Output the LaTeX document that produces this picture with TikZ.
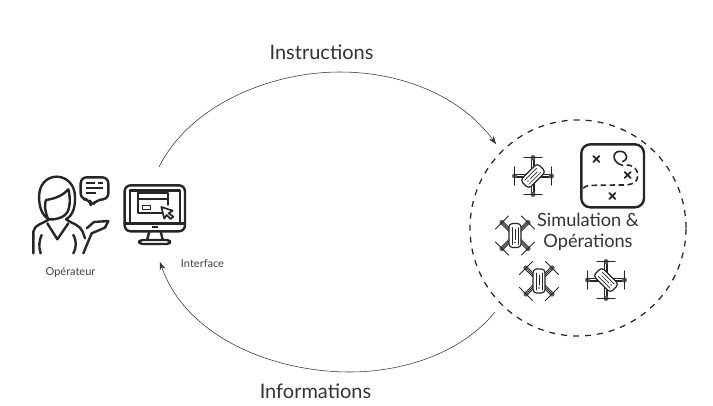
\documentclass[tikz,border=0pt]{standalone}
\usepackage{fontspec}
\setmainfont{Lato}
\usetikzlibrary{arrows.meta}
\tikzset{
  x=1pt,y=-1pt,
  icon/.style={line width=2.4pt,color=black!85,line cap=round,line join=round},
  thinicon/.style={line width=0.9pt,color=black!85,line cap=round,line join=round},
  flow/.style={line width=0.55pt,color=black!80,-{Stealth[length=8pt,width=6pt]}},
  biglabel/.style={font=\fontsize{20}{24}\selectfont,color=black!80,align=center,inner sep=0pt},
  midlabel/.style={font=\fontsize{18.2}{21}\selectfont,color=black!80,align=center,inner sep=0pt},
  smalllabel/.style={font=\fontsize{11}{13}\selectfont,color=black!75,inner sep=0pt},
  drone/.pic={
    \draw[thinicon] (-13,-13)--(13,13) (-13,13)--(13,-13);
    \draw[thinicon] (-11,-13)--(-4,-6) (-13,-11)--(-6,-4) (11,-13)--(4,-6) (13,-11)--(6,-4)
      (-11,13)--(-4,6) (-13,11)--(-6,4) (11,13)--(4,6) (13,11)--(6,4);
    \foreach \sx/\sy in {-1/-1,1/-1,-1/1,1/1}{
      \fill[black!65] (13*\sx,13*\sy) circle (2.6pt);
      \draw[thinicon] (13*\sx+6.5*\sx,13*\sy-6.5*\sy)--(13*\sx-6.5*\sx,13*\sy+6.5*\sy);
    }
    \draw[thinicon,fill=white,rounded corners=3.5pt,line width=1.2pt] (-6,-12) rectangle (6,12);
    \draw[thinicon,line width=.7pt] (-3,-8)--(-3,9) (3,-8)--(3,9) (0,-6)--(0,4);
    \fill[black!80] (0,7) circle (.8pt);
  }
}
\begin{document}
\begin{tikzpicture}
\useasboundingbox (0,0) rectangle (713,405);
% connector ends
\coordinate (topstart) at (159,167);
\coordinate (topend) at (496,144);
\coordinate (botstart) at (495,312);
\coordinate (botend) at (160,262);
\node[biglabel] (instr) at (321.5,52) {Instructions};
\node[biglabel] (infos) at (315.5,391) {Informations};
\node[smalllabel] (oper) at (70.5,272) {Opérateur};
\node[smalllabel] (iface) at (202.5,264) {Interface};
\node[midlabel] (simu) at (588,232) {Simulation \&\\Opérations};
\node[draw=black!85,circle,line width=1.25pt,minimum size=216pt,inner sep=0pt,dash pattern=on 6pt off 6pt] (cloud) at (578,228) {};
\draw[flow] (topstart) .. controls (190,105) and (270,72) .. (340,72) .. controls (400,72) and (460,95) .. (topend);
\draw[flow] (botstart) .. controls (460,355) and (400,372) .. (350,372) .. controls (270,372) and (185,335) .. (botend);

% operator + screen, reference zoom coordinates
\begin{scope}[shift={(20,160)},x=0.3333pt,y=-0.3333pt]
  % hair
  \draw[icon] (40,280) -- (40,215) .. controls (42,195) and (70,190) .. (87,178) .. controls (62,165) and (55,130) .. (58,100)
    .. controls (62,65) and (88,50) .. (110,50) .. controls (140,50) and (165,75) .. (165,110) .. controls (166,140) and (160,165) .. (138,178)
    .. controls (155,190) and (180,195) .. (188,215) -- (195,235);
  % face
  \draw[icon] (85,178) .. controls (75,155) and (72,135) .. (78,120) .. controls (110,115) and (130,105) .. (145,88)
    .. controls (152,115) and (152,150) .. (135,165) .. controls (125,175) and (100,180) .. (85,178);
  % collar
  \draw[icon] (82,190) -- (112,238) -- (145,190);
  \draw[icon] (62,280) .. controls (55,260) and (58,240) .. (65,225);
  \draw[icon] (160,225) .. controls (170,245) and (170,260) .. (160,280);
  % arm & hand
  \draw[icon] (190,280) -- (215,220) -- (255,203) -- (265,183) -- (222,186) -- (200,205);
  % bubble
  \draw[icon,rounded corners=6pt] (182,52) -- (265,52) -- (265,118) -- (232,118) -- (213,140) -- (210,118) -- (182,118) -- cycle;
  \draw[icon,line width=1.8pt,line cap=butt] (198,70)--(225,70) (233,70)--(250,70) (198,85)--(250,85) (198,100)--(228,100);
  % monitor
  \draw[icon,rounded corners=6pt] (314,76) rectangle (495,214);
  \draw[icon] (314,190) -- (495,190);
  \draw[icon] (330,92) -- (480,92) -- (480,190) (330,92) -- (330,190);
  \draw[icon,line width=1.5pt,line cap=butt] (395,201)--(415,201);
  \draw[icon] (388,214) -- (382,238) (422,214) -- (428,238);
  \draw[icon,rounded corners=3pt] (358,252) -- (358,240) -- (450,240) -- (450,252) -- cycle;
  % window
  \draw[icon,line width=1.8pt] (353,100) -- (444,100) -- (444,135) (353,100) -- (353,160) -- (425,160);
  \draw[icon,line width=1.8pt] (353,118) -- (444,118);
  \draw[icon,line width=1.5pt] (368,137) rectangle (392,149);
  % cursor
  \draw[icon,line width=1.7pt,fill=white] (424,141) -- (458,152) -- (446,160) -- (460,170) -- (452,177) -- (440,165) -- (433,176) -- cycle;
\end{scope}

% map, reference zoom coordinates
\begin{scope}[shift={(470,120)},x=0.3333pt,y=-0.3333pt]
  \draw[icon,rounded corners=9pt] (334,73) rectangle (522,262);
  \draw[icon,line width=1.8pt] (370,108)--(388,126) (388,108)--(370,126);
  \draw[icon,line width=1.8pt] (464,156)--(482,174) (482,156)--(464,174);
  \draw[icon,line width=1.8pt] (418,219)--(436,237) (436,219)--(418,237);
  \draw[icon,line width=1.6pt] (458,136) .. controls (425,128) and (425,94) .. (450,94) .. controls (475,94) and (475,122) .. (458,125);
  \draw[icon,line width=1.6pt,dash pattern=on 5.5pt off 3.5pt,line cap=butt] (470,135) .. controls (500,135) and (510,165) .. (500,180) .. controls (492,196) and (470,195) .. (440,195) -- (370,196) .. controls (350,196) and (340,200) .. (334,212);
\end{scope}

% drones
\pic[rotate=-45] (d1) at (533,176) {drone};
\pic (d2) at (515,235.5) {drone};
\pic (d3) at (539,281) {drone};
\pic[rotate=45] (d4) at (606,280) {drone};
\end{tikzpicture}
\end{document}
